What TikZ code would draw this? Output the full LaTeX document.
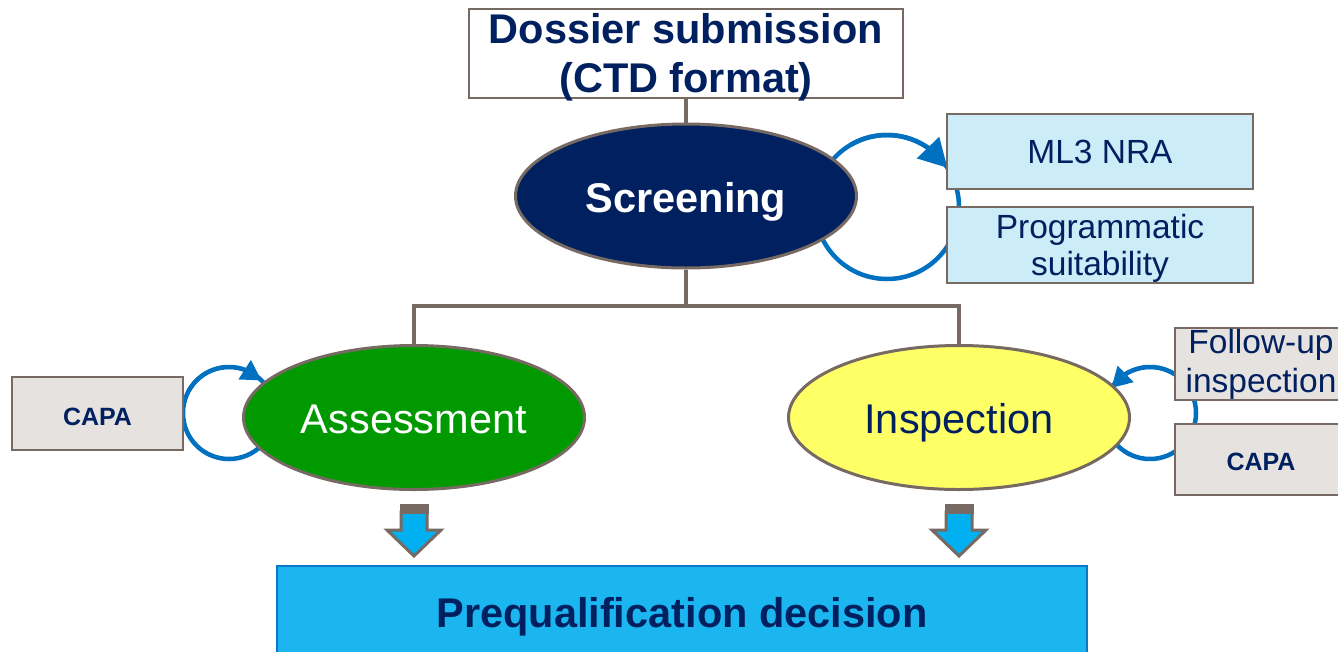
\documentclass[tikz,border=0pt]{standalone}
\usepackage{fontspec}
\setmainfont{Liberation Sans}
\usetikzlibrary{shapes.geometric,arrows.meta,bending}
\definecolor{navy}{HTML}{002060}
\definecolor{edge}{HTML}{766A62}
\definecolor{loopblue}{HTML}{0070C0}
\definecolor{grn}{HTML}{009900}
\definecolor{ylw}{HTML}{FFFF66}
\definecolor{lblue}{HTML}{CCECF8}
\definecolor{lgrey}{HTML}{E6E2DF}
\definecolor{arrblue}{HTML}{00B0F0}
\definecolor{decblue}{HTML}{1BB5EF}
\definecolor{decedge}{HTML}{0A78C6}
\tikzset{
  bigtxt/.style={font=\fontsize{41.5}{49}\selectfont, inner sep=0, anchor=base},
  midtxt/.style={font=\fontsize{33.5}{38}\selectfont, inner sep=0, anchor=base, text=navy},
  capatxt/.style={font=\bfseries\fontsize{25}{30}\selectfont, inner sep=0, anchor=base, text=navy},
  oval/.style={ellipse, draw=edge, line width=3pt, minimum width=341, minimum height=144, inner sep=0},
  sidebox/.style={rectangle, draw=edge, line width=2.5pt, inner sep=0},
  conn/.style={draw=edge, line width=4pt},
  loopline/.style={draw=loopblue, line width=4.5pt},
  looptip/.style={draw=loopblue, line width=4.5pt, -{Triangle[length=28,width=30,flex]}},
  looptipsm/.style={draw=loopblue, line width=4pt, -{Triangle[length=20,width=22,flex]}},
  darr/.style={fill=arrblue, draw=edge, line width=3pt, line join=miter},
}
\begin{document}
\begin{tikzpicture}[x=1pt,y=-1pt]
\clip (0,0) rectangle (1338,651);
\fill[white] (0,0) rectangle (1338,651);

% loop centres
\coordinate (c1) at (887,207);
\coordinate (c2) at (229,413);
\coordinate (c3) at (1150,413);

% loops (drawn beneath shapes)
\draw[loopline] (c1) circle[radius=72];
\draw[looptip] ([shift={(-120:72)}]c1) arc[start angle=-120, end angle=-33, radius=72];
\draw[loopline] (c2) circle[radius=46];
\draw[looptipsm] ([shift={(-150:46)}]c2) arc[start angle=-150, end angle=-45, radius=46];
\draw[loopline] (c3) circle[radius=46];
\draw[looptipsm] ([shift={(-40:46)}]c3) arc[start angle=-40, end angle=-147, radius=46];

% top box
\node[sidebox, draw=edge, fill=white, minimum width=434, minimum height=89] (dossier) at (686,53.5) {};
\node[bigtxt, text=navy, font=\bfseries\fontsize{41.5}{49}\selectfont] (dos1) at (686,43) {Dossier submission};
\node[bigtxt, text=navy, font=\bfseries\fontsize{41.5}{49}\selectfont] (dos2) at (686,92) {(CTD format)};

% ellipses
\node[oval, fill=navy] (screen) at (686,196) {};
\node[bigtxt, text=white, font=\bfseries\fontsize{41.5}{49}\selectfont] (screentxt) at (686,212) {Screening};
\node[oval, fill=grn] (assess) at (414,417.5) {};
\node[bigtxt, text=white] (assesstxt) at (414,433) {Assessment};
\node[oval, fill=ylw] (insp) at (959,417.5) {};
\node[bigtxt, text=navy] (insptxt) at (959,433) {Inspection};

% tree connectors
\draw[conn] (dossier.south) -- (screen.north);
\draw[conn] (screen.south) -- ++(0,36) coordinate (junc);
\draw[conn, line cap=rect] (assess.north) |- (junc) -| (insp.north);

% screening side boxes
\node[sidebox, fill=lblue, minimum width=306, minimum height=75] (ml3) at (1100,151.5) {};
\node[midtxt] (ml3txt) at (1100,163) {ML3 NRA};
\node[sidebox, fill=lblue, minimum width=306, minimum height=76] (prog) at (1100,245) {};
\node[midtxt] (prog1) at (1100,238) {Programmatic};
\node[midtxt] (prog2) at (1100,275) {suitability};

% left CAPA
\node[sidebox, fill=lgrey, minimum width=171, minimum height=73] (capal) at (97.5,413.5) {};
\node[capatxt] (capaltxt) at (97.5,425) {CAPA};

% right boxes
\node[sidebox, fill=lgrey, minimum width=172, minimum height=72] (follow) at (1261,364) {};
\node[midtxt] (fol1) at (1261,353) {Follow-up};
\node[midtxt] (fol2) at (1261,392) {inspection};
\node[sidebox, fill=lgrey, minimum width=172, minimum height=71] (capar) at (1261,459.5) {};
\node[capatxt] (capartxt) at (1261,470) {CAPA};

% bottom decision box
\node[rectangle, fill=decblue, draw=decedge, line width=2.5pt, minimum width=810, minimum height=100, inner sep=0] (decision) at (682,616) {};
\node[bigtxt, text=navy, font=\bfseries\fontsize{41.5}{49}\selectfont] (dectxt) at (682,627) {Prequalification decision};

% down block arrows
\foreach \cx/\nm in {414/arrL, 959/arrR}{
  \begin{scope}[shift={(\cx,0)}]
    \draw[darr] (-13,512) -- (13,512) -- (13,530) -- (27,530) -- (0,556) -- (-27,530) -- (-13,530) -- cycle;
    \fill[edge] (-14.5,504) rectangle (14.5,514);
  \end{scope}
}
\end{tikzpicture}
\end{document}
